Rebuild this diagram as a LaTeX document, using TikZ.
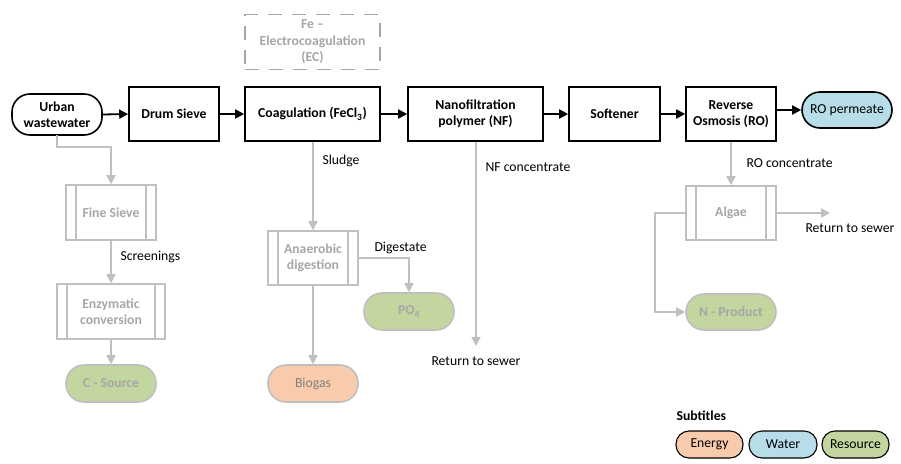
\documentclass[tikz,border=0pt]{standalone}
\usepackage{fontspec}
\setmainfont{Carlito}
\usetikzlibrary{arrows.meta}
\definecolor{gl}{HTML}{BFBFBF}
\definecolor{gt}{HTML}{A6A6A6}
\definecolor{res}{HTML}{C4D6A0}
\definecolor{wat}{HTML}{B7DDE8}
\definecolor{ene}{HTML}{F8CBAD}
\begin{document}
\begin{tikzpicture}[x=1pt,y=-1pt,
  txt/.style={font=\fontsize{13.7}{16.5}\selectfont, align=center},
  box/.style={draw, line width=1.6pt, minimum height=54pt, align=center, inner sep=2pt, font=\fontsize{13.7}{16.5}\selectfont\bfseries},
  term/.style={draw, line width=1.6pt, rounded corners=18pt, align=center, inner sep=1pt, font=\fontsize{13.7}{16.5}\selectfont},
  gbox/.style={draw=gl, line width=1.6pt, minimum height=54pt, align=center, inner sep=2pt, text=gt, font=\fontsize{13.7}{16.5}\selectfont\bfseries},
  gterm/.style={draw=gl, line width=1.6pt, rounded corners=18pt, minimum width=90pt, minimum height=37pt, align=center, inner sep=1pt, text=gt, font=\fontsize{13.7}{16.5}\selectfont\bfseries},
  leg/.style={draw, line width=1.1pt, rounded corners=13pt, minimum height=27pt, inner sep=1pt, font=\fontsize{13.7}{16.5}\selectfont},
  barr/.style={line width=1.8pt, -{Triangle[length=9pt,width=9pt]}},
  garr/.style={draw=gl, line width=1.6pt, -{Triangle[length=9pt,width=9pt]}, color=gl},
  gline/.style={draw=gl, line width=1.6pt},
]
\useasboundingbox (0,0) rectangle (901,463);

% main row
\node[term, font=\fontsize{13.7}{16.5}\selectfont\bfseries, minimum width=90pt, minimum height=41pt] (uw) at (57,114.5) {Urban\\wastewater};
\node[box, minimum width=90pt] (ds) at (174,114) {Drum Sieve};
\node[box, minimum width=135pt] (co) at (312.5,114) {Coagulation (FeCl\textsubscript{3})};
\node[draw=gt, line width=1.6pt, dash pattern=on 14pt off 10pt, minimum width=135pt, minimum height=55pt, align=center, inner sep=1pt, text=gt, font=\fontsize{13.7}{16.5}\selectfont\bfseries] (ec) at (312.5,42) {Fe –\\Electrocoagulation\\(EC)};
\node[box, minimum width=135pt] (nf) at (475.5,114) {Nanofiltration\\polymer (NF)};
\node[box, minimum width=91pt] (so) at (614.5,114) {Softener};
\node[box, minimum width=90pt] (ro) at (731,114) {Reverse\\Osmosis (RO)};
\node[term, fill=wat, minimum width=90pt, minimum height=36pt] (pe) at (847,110) {RO permeate};

\draw[barr] (uw.east) -- (ds.west);
\draw[barr] (ds.east) -- (co.west);
\draw[barr] (co.east) -- (nf.west);
\draw[barr] (nf.east) -- (so.west);
\draw[barr] (so.east) -- (ro.west |- so.east);
\draw[barr] (ro.east |- pe.west) -- (pe.west);

% left branch
\node[gbox, minimum width=90pt, minimum height=55pt] (fs) at (111,212.5) {Fine Sieve};
\node[gbox, minimum width=108pt, minimum height=55pt] (en) at (111,311.5) {Enzymatic\\conversion};
\node[gterm, fill=res] (cs) at (111,383.5) {C - Source};
\coordinate (uwb) at (57,135);
\draw[garr] (uwb) |- (111,147) -- (fs.north);
\draw[garr] (fs.south) -- (en.north);
\node[txt, anchor=west] (scr) at (117,257) {Screenings};
\draw[garr] (en.south) -- (cs.north);

% sludge branch
\node[gbox, minimum width=90pt] (ad) at (313,258) {Anaerobic\\digestion};
\node[gterm, fill=res] (po) at (409,311.5) {PO\textsubscript{4}};
\node[gterm, fill=ene, text=black!50, font=\fontsize{13.7}{16.5}\selectfont] (bg) at (313,383.5) {Biogas};
\draw[garr] (co.south -| ad.north) -- (ad.north);
\node[txt, anchor=west] (sl) at (319,161) {Sludge};
\draw[garr] (ad.east) -| (po.north);
\node[txt, anchor=west] (dg) at (371,248) {Digestate};
\draw[garr] (ad.south) -- (bg.north);

% NF concentrate
\coordinate (nfe) at (476,346);
\draw[garr] (nf.south -| nfe) -- (nfe);
\node[txt, anchor=west] (nfc) at (482,167) {NF concentrate};
\node[txt] (rs1) at (476,361) {Return to sewer};

% RO concentrate
\node[gbox, minimum width=90pt] (al) at (731,213) {Algae};
\node[gterm, fill=res, minimum height=36pt] (np) at (731,312) {N - Product};
\draw[garr] (ro.south) -- (al.north);
\node[txt, anchor=west] (roc) at (743,163) {RO concentrate};
\coordinate (ale) at (830,213);
\draw[garr] (al.east) -- (ale);
\node[txt] (rs2) at (850,228) {Return to sewer};
\draw[garr] (al.west) -| (655,260) |- (np.west);

% predefined process inner lines
\foreach \n/\d in {fs/11, en/11, ad/11, al/11}{
  \draw[gl, line width=1.6pt] ([xshift=\d pt]\n.north west) -- ([xshift=\d pt]\n.south west);
  \draw[gl, line width=1.6pt] ([xshift=-\d pt]\n.north east) -- ([xshift=-\d pt]\n.south east);
}

% legend
\node[txt, font=\fontsize{13.7}{16.5}\selectfont\bfseries, anchor=west] (sub) at (673,416) {Subtitles};
\node[leg, fill=ene, minimum width=67pt] (le) at (709.5,444.5) {Energy};
\node[leg, fill=wat, minimum width=68pt] (lw) at (783,444.5) {Water};
\node[leg, fill=res, minimum width=67pt] (lr) at (855.5,444.5) {Resource};
\end{tikzpicture}
\end{document}
